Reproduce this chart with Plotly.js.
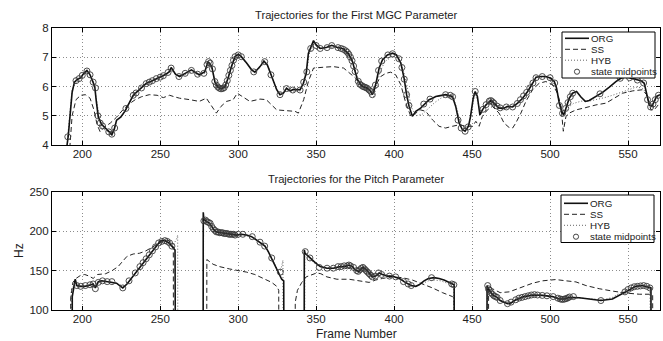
<!DOCTYPE html>
<html>
<head>
<meta charset="utf-8">
<script src="https://cdn.plot.ly/plotly-3.0.1.min.js"></script>
<style>
html,body{margin:0;padding:0;background:#fff;}
#chart{width:663px;height:341px;}
</style>
</head>
<body>
<div id="chart"></div>
<script>
// ---------- Top panel: first MGC parameter ----------
var orgTopX = [190,191,192.5,193.5,195,197,199,201,203,205,206.5,208,209,210.3,212.5,215,217.3,219,220.6,222,224.6,227.3,230,232.7,236.8,240.8,244.9,249,253,255.7,257,259.8,262.4,266,270,272,275,278.5,280.7,283,285,287,289,291.4,293.5,295.7,297.9,300,302,305.4,308.6,310.7,314,316.5,318.7,321.5,324.7,326.8,329,331,333.3,335.4,337.6,339.7,341.8,343.6,345,346.6,348.3,350,352.6,356.9,360,363.3,367.6,371,373.3,375,376.5,378.6,380.7,382.9,385,386,387,388.6,390.4,392.5,395.7,399,401.5,404.3,406.4,408,409.6,411.7,413.9,417,420.3,422.4,424.6,426.7,428.8,433,437.4,439.5,441.7,443.8,445.5,447.7,449,450.7,452,453.4,455,456.6,458.8,462,464,467.3,470.6,472.7,476,479.2,482.4,485.6,488.8,491,494.1,497.3,500.5,502.7,504.2,505.9,507.4,508.7,510.2,512.3,514.4,517,519.8,522.6,525.1,529.4,533.7,538,542.2,545.4,548.6,551.9,555,558.3,560.4,561.9,563.6,565.3,566.8,568.3,570.5];
var orgTopY = [3.9,4.3,5.2,5.8,6.15,6.25,6.3,6.45,6.55,6.4,6.2,6.0,5.5,4.95,4.7,4.55,4.45,4.35,4.55,4.85,4.95,5.15,5.45,5.7,5.9,6.1,6.2,6.3,6.4,6.5,6.65,6.42,6.34,6.45,6.57,6.5,6.4,6.5,6.85,6.7,6.17,5.98,5.92,5.98,6.28,6.68,7.02,7.1,7.02,6.8,6.57,6.49,6.68,6.87,6.74,6.34,5.89,5.72,5.77,5.94,5.85,5.9,5.89,5.89,6.11,6.45,7.13,7.36,7.57,7.42,7.3,7.34,7.41,7.34,7.28,7.1,6.85,6.51,6.23,6.06,5.98,5.94,5.83,5.72,5.83,6.17,6.63,6.91,7.08,7.14,7.08,6.8,6.28,5.72,5.32,4.98,5.15,5.26,5.43,5.55,5.6,5.66,5.68,5.72,5.66,5.32,4.75,4.52,4.47,4.64,4.98,5.6,5.83,5.66,5.03,5.2,5.37,5.52,5.43,5.26,5.26,5.32,5.3,5.43,5.6,5.83,6.11,6.32,6.34,6.34,6.28,6.17,5.94,5.43,5.15,5.03,5.26,5.6,5.77,5.83,5.64,5.49,5.52,5.66,5.8,5.98,6.17,6.28,6.34,6.28,6.23,6.2,6.11,5.77,5.37,5.32,5.49,5.66,5.72];

var ssTopX = [192,193.5,196,199,202,205,207.5,209.5,211.5,214,218,222,226,230,234,238,243,248,252,256,259,262.4,269,275,279.6,283,286,289,292.5,296.8,299.4,302,307.5,314,318,324.7,331,336.5,338.6,342,345,348.3,355,361,367.6,372,375.4,377.5,381.8,386,388.2,391.4,394.6,397.8,401,404.3,407.5,410.7,413.9,417,420.3,424.6,428.8,433,437.4,441.7,446,450.3,452.4,454.5,456.6,459.8,463,467.3,470.5,473.7,476,478,481.3,484.5,488.8,493,497.3,501.6,504.8,507,508.5,510.2,512.3,516.6,523,529.4,535.8,541.2,546.5,553,559.3,561.9,564.7,566.8,570.5];
var ssTopY = [3.9,5.0,5.55,5.7,5.72,5.6,5.2,4.7,4.45,4.6,4.75,4.95,5.2,5.4,5.55,5.65,5.72,5.7,5.62,5.7,5.65,5.6,5.55,5.49,5.6,5.32,5.09,5.32,5.49,5.55,5.77,5.68,5.49,5.57,5.55,5.2,5.18,5.15,5.09,5.55,6.17,6.63,6.66,6.68,6.63,6.45,6.28,6.09,5.94,5.83,6.06,6.34,6.45,6.49,6.4,6.06,5.43,4.98,5.09,5.2,5.15,4.86,4.64,4.58,4.64,4.69,4.64,4.64,4.81,4.64,4.98,5.2,5.32,5.09,4.75,4.6,4.58,4.75,5.09,5.49,5.89,6.11,6.17,6.06,5.77,5.32,4.47,4.98,5.09,5.2,5.28,5.37,5.43,5.6,5.77,5.85,5.89,5.72,5.2,5.2,5.45];

var hybTopX = [190.5,192,193.5,195.5,198,201,203,205.5,207.5,209,210.5,212,215,218,220,222,225,228,231,234,238,242,246,250,254,257,260,264,270,275,278.5,281,283,285,287.5,290,292.5,295,298,300.5,303,306,310,314,317,319.5,322,325,328,331,335,339.7,342,344,345.5,348.5,352,357,362,367,371,374,376.5,379,382,385,387,389,391,394,398,401.5,404.5,407,409,411,414,418,422,426,430,434,438,440.5,442.5,445,447.5,449.5,451,452.5,454,455.5,458,462,466,470,474,478,482,486,490,494,498,501,503.5,505.5,507.5,509.5,512,515,520,525,530,535,540,545,550,555,559,561.5,563.5,565.5,568,570.5];
var hybTopY = [4.2,5.0,5.9,6.1,6.25,6.4,6.5,6.35,6.1,5.6,5.0,4.6,4.5,4.4,4.5,4.8,4.95,5.2,5.55,5.75,5.95,6.1,6.2,6.3,6.4,6.55,6.4,6.35,6.5,6.38,6.45,6.75,6.65,6.2,6.0,5.95,6.1,6.55,6.95,7.05,6.95,6.75,6.5,6.65,6.82,6.65,6.25,5.85,5.75,5.85,5.82,5.85,6.1,6.5,7.1,7.45,7.3,7.32,7.35,7.25,7.05,6.75,6.3,6.0,5.85,5.7,5.65,6.05,6.5,6.85,7.0,7.0,6.8,6.35,5.8,5.3,5.0,5.05,5.25,5.45,5.6,5.68,5.6,5.2,4.75,4.6,4.65,5.0,5.55,5.7,5.4,5.05,5.3,5.45,5.3,5.2,5.28,5.38,5.55,5.85,6.2,6.3,6.3,6.22,6.0,5.55,5.15,5.1,5.3,5.42,5.5,5.5,5.55,5.62,5.7,5.78,5.88,5.98,5.95,5.8,5.45,5.4,5.55,5.65];

var midTopX = [190.7,196,198,200,203,205,207,208.5,210,211.5,213,217,219,220.8,228,232.7,234.5,238,241,243,245,247.5,250,252,255,257,262,266,270,274,278,280,281,282,283.5,285,286,287,288,289,290,291,292,293,294,295,296,297,298,300,302,310,317,321,326.8,331,335,339.7,342,344,346.5,350,352.6,357,360,364,366,367.5,369,370,371,372,373,374,375,377,378,379,380,381,382,383,384,385,386,388,390,392,396,399,403,405,406.5,408,409.5,419,423,433,436,437.5,441,443,445.5,447.5,452,457,459,461,462,463,464,466,468,472,476,479,481,483,485,487,489,491,495,500,503,506,508,510,511.5,513,514.5,532,545,551,556,560,562.5,564.5,566,567.5,569.5];
var midTopY = [4.28,6.2,6.27,6.38,6.53,6.4,6.15,5.95,5.0,4.75,4.65,4.45,4.37,4.58,5.25,5.7,5.78,5.95,6.1,6.15,6.2,6.27,6.32,6.37,6.48,6.63,6.34,6.45,6.55,6.42,6.45,6.75,6.85,6.8,6.6,6.17,6.05,5.98,5.94,5.92,5.93,5.96,6.05,6.2,6.38,6.55,6.72,6.9,7.02,7.08,7.02,6.5,6.85,6.4,5.72,5.93,5.88,5.88,6.15,6.5,7.3,7.4,7.3,7.33,7.4,7.33,7.3,7.27,7.22,7.17,7.1,7.0,6.88,6.7,6.51,6.18,6.08,6.04,6.0,5.98,5.96,5.93,5.88,5.83,5.72,6.05,6.55,6.87,7.08,7.12,6.95,6.65,6.25,5.72,5.35,5.4,5.57,5.72,5.7,5.65,4.85,4.58,4.47,4.62,5.83,5.22,5.38,5.5,5.52,5.48,5.43,5.33,5.27,5.3,5.3,5.42,5.55,5.68,5.8,5.95,6.12,6.3,6.34,6.3,6.12,5.35,5.08,5.25,5.45,5.65,5.77,5.75,6.28,6.3,6.22,6.12,5.55,5.3,5.4,5.55,5.7];

// ---------- Bottom panel: pitch (Hz), 0 = unvoiced, null = gap ----------
var orgPitchX = [193.5,193.6,195.5,196.5,199,201.6,204,205.7,207,208.4,210.3,212.5,216.5,219.2,222,224.6,226,228.7,231.4,235.4,239.5,242.2,245,247.6,250.3,253,255.7,257.9,259.5,259.8,null,
 277.5,277.6,278,279.6,281.8,283.9,286,289.3,292.5,295.7,298.9,302,305.4,308.6,310.7,314,317.2,319.3,321.5,323.6,325.8,327.9,329.2,329.4,null,
 342.3,342.4,342.9,346,349.4,352.6,356.9,361,365.4,368,371.1,373.3,375.4,377.5,379.7,381.8,384,386,388.2,390.4,392.5,395.7,398.9,402.1,404.3,406.4,408.5,410.7,413.9,416,419.2,422,425.6,428.8,432,435.3,437.4,438.5,438.6,null,
 459.5,459.6,460.5,462,464,466,468,470,472.7,475,478,483.4,488.8,495.2,501.6,505.9,509.1,512.3,518.7,525.1,532.6,540,546.5,551.9,555,559.3,563.6,564.7,564.8];
var orgPitchY = [0,117,139,131,130,130,131,132,133,128,136,137,136,135,134,130,128,133,140,150,160,168,175,182,188,188,185,180,176,0,null,
 0,224,215,212,210,203,199,198,197,196,195,196,195,193,190,186,181,174,165,155,147,139,137,0,null,
 0,176,172,166,160,155,153,153,155,155,157,155,150,149,154,152,146,142,143,147,145,143,143,141,139,136,133,131,130,132,137,140,141,140,138,135,133,132,0,null,
 0,131,127,122,118,116,112,110,108,109,113,117,119,118.5,117,114,114,116,115.5,114,112,114,120.6,127,130,131,129,128,0];

var ssPitchX = [192.5,192.6,194,196,199,201.6,204.4,207,209.8,215,219.2,223,226,228.7,232.7,236.8,240.8,245,249,253,255.7,257,258.4,258.5,null,
 279.8,279.9,283.9,288,294.6,300,305.4,310.7,316,321.5,324.7,326,326.1,null,
 336.5,336.6,338,340.8,343.6,347.2,350.4,353,356.9,363.3,371.1,377.5,384,388.2,392.5,398.9,405.3,411.7,418.2,424.6,431,437.4,438.5,438.6,null,
 460.5,460.6,463,466,468,473.8,478,483,488.8,495.2,503.7,510.2,516.6,523,531.5,540,548.6,557.2,563.6,565.8,565.9];
var ssPitchY = [0,115,135,140,144,145,143,140,145,146,150,155,162,168,171,172,175,180,185,189,188,183,180,0,null,
 0,164,158,155,152,150,148,145,140,135,130,125,0,null,
 0,110,125,135,142,145,147,146,142,139,139,137,135,138,140,142,141,138,133,128,122,117,115,0,null,
 0,130,127,124,122,123,126,130,134,137,138.6,137,135.6,131,127,124,121.5,120,120,119,0];

var hybPitchX = [192.8,192.9,194.5,197,200,204,207,209,211,215,220,224,227,230,234,238,242,246,250,253,256,258.5,260.5,261.2,261.3,null,
 277.7,277.8,280,283,286,292,298,303,308,312,316,320,323,325.5,327.5,328.7,328.8,null,
 342.6,342.7,346,350,355,361,366,371,376,380,384,388,392,398,404,410,414,418,422,426,430,434,438.3,438.4,null,
 459.7,459.8,462,466,470,474,478,484,490,496,502,506,510,514,520,528,534,540,546,552,556,560,564,564.9];
var hybPitchY = [0,125,131,130,130,131,131,130,135,136,135,132,130,136,147,158,168,177,185,187,185,183,190,195,0,null,
 0,218,212,205,200,197,195,195,193,189,183,172,160,150,152,163,0,null,
 0,168,164,158,154,153,155,156,150,153,147,143,146,143,139,132,130,133,137,138,137,134,130,0,null,
 0,128,121,115,110,109,113,117,119,118.5,117,114,114.5,116,115,114,113,116,123,128,130,131,129,0];

var midPitchX = [196.5,199,202,205,207,208.4,210.3,213,216,219,226,230,234,237,239,241,243,245,247,249,251,253,254.5,256,257.5,
 278,279,280,281,282,283,284,285,286,287,288,289,290,291,292,293,294,295,296,297,298,300,303,309,314,317,321.5,327,
 343,346,352,357,361,364,366,368,370,371,372,374,376,377,378,379,380,381,382,383,384,385,386,388,390,392,397,401,406,409,411,424,437,438.3,
 460,460.5,461,462,463,464,465,466,468,472.7,475,478,480,482,484,486,488,490,492,495,498,502,505,506.5,507.5,508.5,509.5,510.5,511.5,512.5,515,532.6,548,550,552,554,556,558,560,562,564];
var midPitchY = [131,130,131,132,133,127,135,137,136,136,128,137,147,155,160,165,170,175,180,185,187,188,187,185,181,
 213,214,212,211,210,206,203,201,199,199,198,198,198,197,197,197,196,196,196,196,195,196,196,193,186,181,166,148,
 174,166,154,153,153,155,155,156,156,157,156,154,150,149,151,153,154,152,150,148,146,144,142,143,147,145,143,142,136,133,131,141,133,132,
 131,127,125,122,120,118,117,116,112,108,110,113,115,116,117,118,119,119.5,119,118.5,118,117,115,114,113.5,113.5,114,114.5,115.5,116.5,117,112,123,126,128,129.5,130,130.5,131,130,128];

// ---------- Text ----------
var topTitle = 'Trajectories for the First MGC Parameter';
var bottomTitle = 'Trajectories for the Pitch Parameter';
var xTitle = 'Frame Number';
var yTitleBottom = 'Hz';
var legendNames = ['ORG', 'SS', 'HYB', 'state midpoints'];
var xTicks = [200, 250, 300, 350, 400, 450, 500, 550];
var yTicksTop = [4, 5, 6, 7, 8];
var yTicksBottom = [100, 150, 200, 250];

// ---------- Styles ----------
var FONT = 'Liberation Sans, Arial, Helvetica, sans-serif';
var orgLine = {color: '#111', width: 1.6};
var ssLine = {color: '#222', width: 1, dash: '5px,3px'};
var hybLine = {color: '#555', width: 0.9, dash: '1px,2px'};
var midMarker = {symbol: 'circle-open', size: 6, color: '#3a3a3a', line: {width: 0.9, color: '#3a3a3a'}};

function lineTrace(x, y, line, xa, ya, name) {
  return {x: x, y: y, mode: 'lines', line: line, xaxis: xa, yaxis: ya, name: name,
          connectgaps: false, hoverinfo: 'skip', showlegend: false};
}
function markTrace(x, y, xa, ya) {
  return {x: x, y: y, mode: 'markers', marker: midMarker, xaxis: xa, yaxis: ya,
          name: legendNames[3], hoverinfo: 'skip', showlegend: false};
}

var data = [
  lineTrace(hybTopX, hybTopY, hybLine, 'x', 'y', legendNames[2]),
  lineTrace(ssTopX, ssTopY, ssLine, 'x', 'y', legendNames[1]),
  lineTrace(orgTopX, orgTopY, orgLine, 'x', 'y', legendNames[0]),
  markTrace(midTopX, midTopY, 'x', 'y'),
  lineTrace(hybPitchX, hybPitchY, hybLine, 'x2', 'y2', legendNames[2]),
  lineTrace(ssPitchX, ssPitchY, ssLine, 'x2', 'y2', legendNames[1]),
  lineTrace(orgPitchX, orgPitchY, orgLine, 'x2', 'y2', legendNames[0]),
  markTrace(midPitchX, midPitchY, 'x2', 'y2')
];

// pixel -> paper helpers (plot area: x 52..660, y 28..310)
var L = 52, R = 3, T = 28, B = 31, W = 663, H = 341;
function px(x) { return (x - L) / (W - L - R); }
function py(y) { return (H - B - y) / (H - T - B); }

var axisCommon = {
  showline: true, linecolor: '#000', linewidth: 1.1, mirror: 'ticks',
  ticks: 'inside', ticklen: 4, tickwidth: 1, tickcolor: '#000',
  showgrid: true, gridcolor: '#8c8c8c', gridwidth: 1, griddash: '1px,2.5px',
  zeroline: false, tickfont: {family: FONT, size: 11.5, color: '#222'},
  fixedrange: true
};
function ax(extra) { return Object.assign({}, axisCommon, extra); }

var shapes = [], annotations = [];

function addLegend(box, rows) {
  shapes.push({type: 'rect', xref: 'paper', yref: 'paper',
    x0: px(box[0]), x1: px(box[1]), y0: py(box[2]), y1: py(box[3]),
    line: {color: '#000', width: 1}, fillcolor: '#fff', layer: 'above'});
  var styles = [orgLine, ssLine, hybLine];
  for (var i = 0; i < 3; i++) {
    shapes.push({type: 'line', xref: 'paper', yref: 'paper',
      x0: px(box[0] + 3), x1: px(box[0] + 27), y0: py(rows[i]), y1: py(rows[i]),
      line: {color: styles[i].color, width: styles[i].width, dash: styles[i].dash || 'solid'}, layer: 'above'});
  }
  shapes.push({type: 'circle', xref: 'paper', yref: 'paper', xsizemode: 'pixel', ysizemode: 'pixel',
    xanchor: px(box[0] + 15), yanchor: py(rows[3]), x0: -2.6, x1: 2.6, y0: -2.6, y1: 2.6,
    line: {color: '#333', width: 0.9}, layer: 'above'});
  for (var j = 0; j < 4; j++) {
    annotations.push({xref: 'paper', yref: 'paper', x: px(box[0] + 27), y: py(rows[j]),
      xanchor: 'left', yanchor: 'middle', showarrow: false, text: legendNames[j],
      font: {family: FONT, size: 9.8, color: '#222'}});
  }
}
addLegend([562, 655, 32, 78], [38.3, 49.3, 60.2, 71.7]);
addLegend([561, 654, 195, 242.5], [203.3, 214.3, 225.3, 236.7]);

annotations.push({xref: 'paper', yref: 'paper', x: 0.5, y: py(15), xanchor: 'center', yanchor: 'middle',
  showarrow: false, text: topTitle, font: {family: FONT, size: 11.2, color: '#222'}});
annotations.push({xref: 'paper', yref: 'paper', x: 0.5, y: py(179), xanchor: 'center', yanchor: 'middle',
  showarrow: false, text: bottomTitle, font: {family: FONT, size: 11.2, color: '#222'}});
annotations.push({xref: 'paper', yref: 'paper', x: 0.5, y: py(334), xanchor: 'center', yanchor: 'middle',
  showarrow: false, text: xTitle, font: {family: FONT, size: 12, color: '#222'}});
annotations.push({xref: 'paper', yref: 'paper', x: px(19), y: py(251), xanchor: 'center', yanchor: 'middle',
  showarrow: false, text: yTitleBottom, textangle: -90, font: {family: FONT, size: 12, color: '#222'}});

var layout = {
  width: W, height: H,
  margin: {l: L, r: R, t: T, b: B, pad: 0},
  paper_bgcolor: '#fff', plot_bgcolor: '#fff',
  showlegend: false,
  xaxis: ax({domain: [0, 1], anchor: 'y', range: [180.6, 570.5], tickvals: xTicks, ticklabelstandoff: -2}),
  yaxis: ax({domain: [py(145), 1], anchor: 'x', range: [4, 8], tickvals: yTicksTop}),
  xaxis2: ax({domain: [0, 1], anchor: 'y2', range: [180.6, 570.5], tickvals: xTicks, ticklabelstandoff: -2}),
  yaxis2: ax({domain: [0, py(191.7)], anchor: 'x2', range: [100, 250], tickvals: yTicksBottom}),
  shapes: shapes,
  annotations: annotations
};

Plotly.newPlot('chart', data, layout, {staticPlot: true, displayModeBar: false});
</script>
</body>
</html>
